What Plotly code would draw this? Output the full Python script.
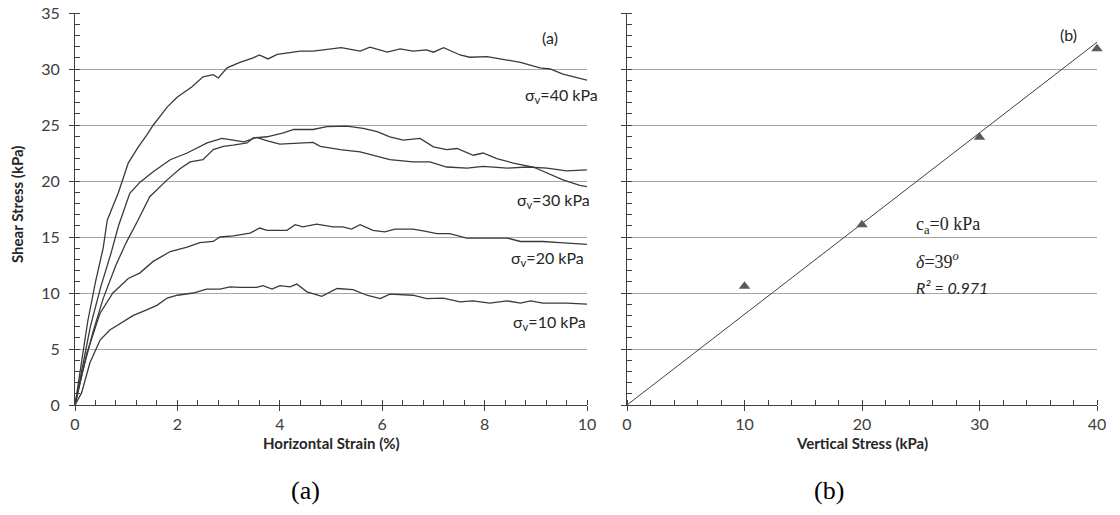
import math
import plotly.graph_objects as go

# ---- Panel (a): shear stress vs horizontal strain ----
strain_40 = [0, 0.12, 0.25, 0.4, 0.55, 0.63, 0.85, 1.04, 1.23, 1.4, 1.53, 1.8, 2.0, 2.28, 2.5, 2.7, 2.8,
             2.97, 3.22, 3.48, 3.6, 3.77, 3.95, 4.4, 4.65, 5.2, 5.57, 5.76, 6.1, 6.35, 6.6, 6.87, 7.0,
             7.2, 7.52, 7.71, 8.05, 8.44, 8.7, 9.08, 9.28, 9.53, 10.0]
stress_40 = [0, 3.5, 7.5, 11.0, 14.0, 16.5, 19.0, 21.6, 23.0, 24.1, 25.0, 26.6, 27.5, 28.4, 29.3, 29.5, 29.2,
             30.1, 30.6, 31.0, 31.25, 30.9, 31.3, 31.6, 31.6, 31.9, 31.6, 31.95, 31.5, 31.8, 31.6, 31.7, 31.5,
             31.9, 31.25, 31.05, 31.1, 30.8, 30.6, 30.1, 30.0, 29.55, 29.0]

strain_30a = [0, 0.15, 0.3, 0.5, 0.7, 0.85, 1.07, 1.27, 1.52, 1.86, 2.19, 2.58, 2.87, 3.09, 3.3, 3.55,
              3.74, 4.0, 4.4, 4.65, 4.79, 5.18, 5.57, 5.82, 6.15, 6.6, 6.93, 7.26, 7.66, 7.97, 8.44,
              8.83, 9.22, 9.6, 9.86, 10.0]
stress_30a = [0, 3.5, 7.0, 10.5, 13.5, 16.0, 18.9, 19.9, 20.8, 21.9, 22.5, 23.4, 23.8, 23.65, 23.5, 23.9,
              23.6, 23.3, 23.4, 23.45, 23.1, 22.8, 22.6, 22.3, 21.9, 21.7, 21.7, 21.25, 21.15, 21.3, 21.15,
              21.25, 21.15, 20.9, 21.0, 21.0]

strain_30b = [0, 0.15, 0.35, 0.55, 0.8, 1.0, 1.23, 1.46, 1.8, 2.05, 2.25, 2.5, 2.7, 2.9, 3.09, 3.36,
              3.48, 3.75, 4.07, 4.27, 4.53, 4.65, 4.92, 5.31, 5.63, 5.9, 6.15, 6.41, 6.74, 7.0, 7.26,
              7.46, 7.78, 7.97, 8.24, 8.56, 8.95, 9.22, 9.53, 9.86, 10.0]
stress_30b = [0, 3.0, 6.5, 9.5, 12.5, 14.5, 16.5, 18.6, 20.1, 21.1, 21.7, 21.9, 22.8, 23.1, 23.2, 23.4,
              23.85, 23.95, 24.3, 24.6, 24.6, 24.6, 24.85, 24.9, 24.7, 24.4, 23.95, 23.65, 23.8, 23.05, 22.8,
              22.9, 22.3, 22.5, 22.0, 21.6, 21.25, 20.7, 20.1, 19.6, 19.5]

strain_20 = [0, 0.1, 0.23, 0.49, 0.74, 1.04, 1.27, 1.52, 1.86, 2.19, 2.44, 2.7, 2.83, 3.09, 3.42, 3.61,
             3.75, 4.14, 4.3, 4.45, 4.72, 5.04, 5.23, 5.4, 5.57, 5.82, 6.05, 6.25, 6.6, 6.8, 7.07, 7.32,
             7.65, 7.9, 8.16, 8.45, 8.7, 9.14, 9.47, 10.0]
stress_20 = [0, 2.0, 4.6, 8.2, 10.0, 11.3, 11.8, 12.8, 13.7, 14.1, 14.5, 14.6, 15.0, 15.1, 15.35, 15.8,
             15.6, 15.6, 16.1, 15.9, 16.15, 15.9, 15.9, 15.7, 16.1, 15.6, 15.45, 15.7, 15.7, 15.55, 15.3, 15.3,
             14.9, 14.9, 14.9, 14.9, 14.6, 14.6, 14.5, 14.35]

strain_10 = [0, 0.13, 0.29, 0.49, 0.68, 0.94, 1.14, 1.4, 1.6, 1.8, 2.0, 2.31, 2.57, 2.83, 3.03, 3.22,
             3.55, 3.67, 3.85, 4.0, 4.2, 4.33, 4.53, 4.82, 5.12, 5.43, 5.7, 5.96, 6.15, 6.6, 6.87, 7.19,
             7.52, 7.77, 8.1, 8.44, 8.7, 8.9, 9.14, 9.6, 10.0]
stress_10 = [0, 1.1, 3.75, 5.8, 6.7, 7.4, 8.0, 8.5, 8.9, 9.55, 9.8, 10.0, 10.35, 10.35, 10.55, 10.5,
             10.5, 10.65, 10.35, 10.65, 10.55, 10.8, 10.1, 9.7, 10.4, 10.3, 9.8, 9.5, 9.9, 9.8, 9.5, 9.55,
             9.2, 9.3, 9.1, 9.3, 9.1, 9.3, 9.1, 9.1, 9.0]

curve_labels = ["σ<sub>v</sub>=40 kPa", "σ<sub>v</sub>=30 kPa", "σ<sub>v</sub>=20 kPa", "σ<sub>v</sub>=10 kPa"]

# ---- Panel (b): peak shear stress vs vertical stress ----
vertical_stress = [10, 20, 30, 40]
peak_shear = [10.6, 16.1, 23.9, 31.8]
cohesion = 0.0          # c_a, kPa
friction_angle = 39.0   # delta, degrees
r_squared = 0.971

LINE = "#3a3a3a"
AXIS = "#404040"
GRID = "#a6a6a6"
TICKFONT = dict(family="Lato", size=16, color="#404040")

W, H = 1120, 515
def px_x(p):
    return p / W
def px_y(p):
    return 1 - p / H

dom_xa = [px_x(75), px_x(587)]
dom_xb = [px_x(627), px_x(1097)]
dom_y = [px_y(405), px_y(13)]

fig = go.Figure()

for sx, sy in [(strain_40, stress_40), (strain_30a, stress_30a), (strain_30b, stress_30b),
               (strain_20, stress_20), (strain_10, stress_10)]:
    fig.add_trace(go.Scatter(x=sx, y=sy, mode="lines", xaxis="x", yaxis="y",
                             line=dict(color=LINE, width=1.3), showlegend=False, hoverinfo="skip"))

# Failure envelope from cohesion and friction angle
env_x = [0, 40]
env_y = [cohesion + v * math.tan(math.radians(friction_angle)) for v in env_x]
fig.add_trace(go.Scatter(x=env_x, y=env_y, mode="lines", xaxis="x2", yaxis="y2",
                         line=dict(color=AXIS, width=1), showlegend=False, hoverinfo="skip"))
fig.add_trace(go.Scatter(x=vertical_stress, y=peak_shear, mode="markers", xaxis="x2", yaxis="y2",
                         marker=dict(symbol="triangle-up", size=10, color="#5a5a5a"),
                         showlegend=False, hoverinfo="skip", cliponaxis=False))

# empty traces that instantiate the inner-tick overlay axes
fig.add_trace(go.Scatter(x=[], y=[], xaxis="x3", yaxis="y3", showlegend=False, hoverinfo="skip"))
fig.add_trace(go.Scatter(x=[], y=[], xaxis="x4", yaxis="y4", showlegend=False, hoverinfo="skip"))

common_axis = dict(showline=True, linecolor=AXIS, linewidth=1, zeroline=False, ticks="outside",
                   ticklen=5, tickcolor=AXIS, tickwidth=1, tickfont=TICKFONT, fixedrange=True,
                   automargin=False)
overlay_axis = dict(showline=False, zeroline=False, showgrid=False, showticklabels=False,
                    ticks="inside", ticklen=5, tickcolor=AXIS, tickwidth=1, fixedrange=True,
                    automargin=False)

fig.update_layout(
    width=W, height=H, margin=dict(l=0, r=0, t=0, b=0, autoexpand=False),
    paper_bgcolor="white", plot_bgcolor="white",
    xaxis=dict(domain=dom_xa, range=[0, 10], dtick=2, anchor="y", showgrid=False, ticklabelstandoff=0,
               minor=dict(dtick=0.4, ticks="inside", ticklen=5, tickcolor=AXIS), **common_axis),
    yaxis=dict(domain=dom_y, range=[0, 35], dtick=5, anchor="x", showgrid=True, gridcolor=GRID,
               gridwidth=1, ticklabelstandoff=6,
               minor=dict(dtick=1, ticks="inside", ticklen=5, tickcolor=AXIS, showgrid=False),
               **common_axis),
    xaxis2=dict(domain=dom_xb, range=[0, 40], dtick=10, anchor="y2", showgrid=False, ticklabelstandoff=0,
                minor=dict(dtick=2, ticks="inside", ticklen=5, tickcolor=AXIS), **common_axis),
    yaxis2=dict(domain=dom_y, range=[0, 35], dtick=5, anchor="x2", showgrid=True, gridcolor=GRID,
                gridwidth=1, showticklabels=False,
                minor=dict(dtick=1, ticks="inside", ticklen=5, tickcolor=AXIS, showgrid=False),
                **common_axis),
    xaxis3=dict(overlaying="x", anchor="y3", range=[0, 10], dtick=2, **overlay_axis),
    yaxis3=dict(overlaying="y", anchor="x3", range=[0, 35], dtick=5, **overlay_axis),
    xaxis4=dict(overlaying="x2", anchor="y4", range=[0, 40], dtick=10, **overlay_axis),
    yaxis4=dict(overlaying="y2", anchor="x4", range=[0, 35], dtick=5, **overlay_axis),
)

ann = []


def text_at(txt, xp, yp, font, xanchor="center", **kw):
    """Place a text by page pixel position (x per xanchor, y at its vertical centre)."""
    ann.append(dict(text=txt, x=px_x(xp), y=px_y(yp), xref="paper", yref="paper", xanchor=xanchor,
                    yanchor="middle", showarrow=False, font=font, **kw))


label_font = dict(family="Lato", size=16, color="#262626")
# curve labels of panel (a)
for txt, xr, yc in zip(curve_labels, [600, 592, 586, 588], [95, 200, 258, 322]):
    text_at(txt, xr, yc, label_font, xanchor="right")
text_at("(a)", 550, 37, label_font)
text_at("(b)", 1068, 35, label_font)

# envelope parameters in panel (b)
serif = dict(family="Liberation Serif", size=18, color="#262626")
text_at("c<sub>a</sub>=%g kPa" % cohesion, 914, 225, serif, xanchor="left")
text_at("<i>δ</i>=%g<i><sup>o</sup></i>" % friction_angle, 914, 260, serif, xanchor="left")
text_at("<i>R² = %.3f</i>" % r_squared, 914, 287, label_font, xanchor="left")

# axis titles
title_font = dict(family="Lato", size=15, color="#262626")
text_at("<b>Shear Stress (kPa)</b>", 17, 205, title_font, textangle=-90)
text_at("<b>Horizontal Strain (%)</b>", 331, 443, title_font)
text_at("<b>Vertical Stress (kPa)</b>", 862, 443, title_font)

# panel captions
cap_font = dict(family="Liberation Serif", size=26, color="black")
text_at("(a)", 306, 490, cap_font)
text_at("(b)", 829, 490, cap_font)

fig.update_layout(annotations=ann)
fig.write_html("out.html")
